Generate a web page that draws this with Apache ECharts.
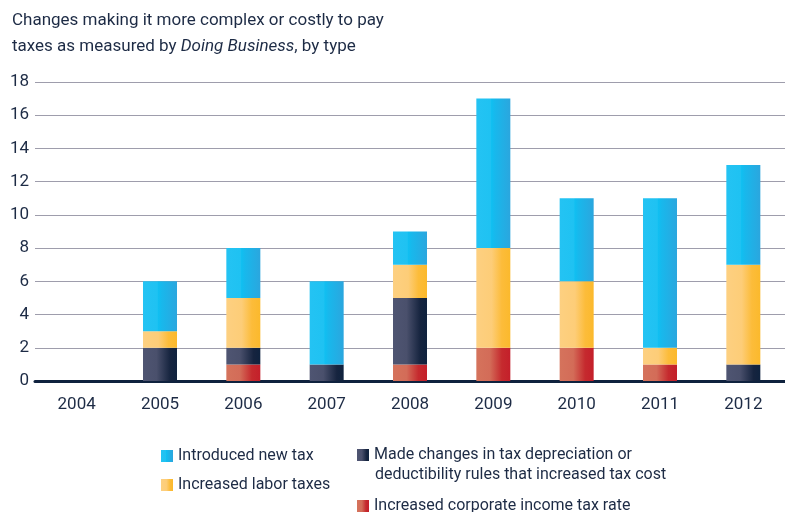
<!DOCTYPE html>
<html><head><meta charset="utf-8">
<script src="https://cdn.jsdelivr.net/npm/echarts@6/dist/echarts.min.js"></script>
<style>html,body{margin:0;padding:0;background:#fff}#c{width:785px;height:512px}</style>
</head><body><div id="c"></div>
<script>
const years = ['2004','2005','2006','2007','2008','2009','2010','2011','2012'];
const corpTax = [0,0,1,0,1,2,2,1,0];
const depreciation = [0,2,1,1,4,0,0,0,1];
const laborTax = [0,1,3,0,2,6,4,1,6];
const newTax = [0,3,3,5,2,9,5,9,6];
const yTicks = [0,2,4,6,8,10,12,14,16,18];

const names = {
  newTax: 'Introduced new tax',
  labor: 'Increased labor taxes',
  dep: 'Made changes in tax depreciation or deductibility rules that increased tax cost',
  corp: 'Increased corporate income tax rate'
};
function grad(stops){
  return {type:'linear',x:0,y:0,x2:1,y2:0,colorStops:stops.map(s=>({offset:s[0],color:s[1]}))};
}
const cBlue = grad([[0,'#24c3f3'],[0.42,'#1fc2f2'],[0.45,'#10bff1'],[0.55,'#18b8ec'],[1,'#2ba6de']]);
const cYellow = grad([[0,'#fdd081'],[0.45,'#fdcd78'],[0.75,'#fcbc3a'],[1,'#fbb92c']]);
const cNavy = grad([[0,'#4f5572'],[0.4,'#4a506c'],[0.8,'#16243f'],[1,'#0f223e']]);
const cRed = grad([[0,'#d5735c'],[0.4,'#d36c58'],[0.75,'#c52a2e'],[1,'#c41f2a']]);

const font = 'Roboto';
const txt = '#1d2b45';
function mk(name,data,color){
  return {name,type:'bar',stack:'t',data,barWidth:34,itemStyle:{color},emphasis:{disabled:true}};
}
function leg(name,left,top,fmt){
  return {data:[name],left,top,itemWidth:12,itemHeight:12,icon:'rect',selectedMode:false,padding:0,
    formatter:fmt||'{name}',textStyle:{fontFamily:font,fontSize:16,color:txt,lineHeight:20}};
}
const chart = echarts.init(document.getElementById('c'),null,{renderer:'canvas'});
chart.setOption({
  animation:false,
  textStyle:{fontFamily:font},
  title:{left:12,top:8,padding:0,
    text:'{a|Changes making it more complex or costly to pay}\n{a|taxes as measured by }{i|Doing Business}{a|, by type}',
    textStyle:{fontWeight:'normal',rich:{
      a:{fontFamily:font,fontSize:17,color:txt,lineHeight:26,fontWeight:'normal'},
      i:{fontFamily:font,fontSize:17,color:txt,lineHeight:26,fontStyle:'italic',fontWeight:'normal'}
    }}},
  grid:{left:35,top:82,width:754,height:299,containLabel:false},
  legend:[
    leg(names.newTax,161,446),
    leg(names.labor,161,475),
    leg(names.dep,357,445,()=>'Made changes in tax depreciation or'),
    leg(names.corp,357,496)
  ],
  graphic:[{type:'text',left:375,top:467,style:{text:'deductibility rules that increased tax cost',fontFamily:font,fontSize:16,fill:txt}}],
  xAxis:{type:'category',data:years,
    axisLine:{show:true,lineStyle:{color:'#0f223e',width:3}},
    axisTick:{show:false},
    axisLabel:{fontFamily:font,fontSize:17,color:txt,margin:15}},
  yAxis:{type:'value',min:0,max:18,interval:2,
    axisLine:{show:false},axisTick:{show:false},
    splitLine:{lineStyle:{color:'#9e9dac',width:1.2}},
    axisLabel:{fontFamily:font,fontSize:17,color:txt,margin:6,
      formatter:v=>yTicks.includes(v)?String(v):''}},
  series:[
    mk(names.corp,corpTax,cRed),
    mk(names.dep,depreciation,cNavy),
    mk(names.labor,laborTax,cYellow),
    mk(names.newTax,newTax,cBlue)
  ]
});
</script></body></html>
